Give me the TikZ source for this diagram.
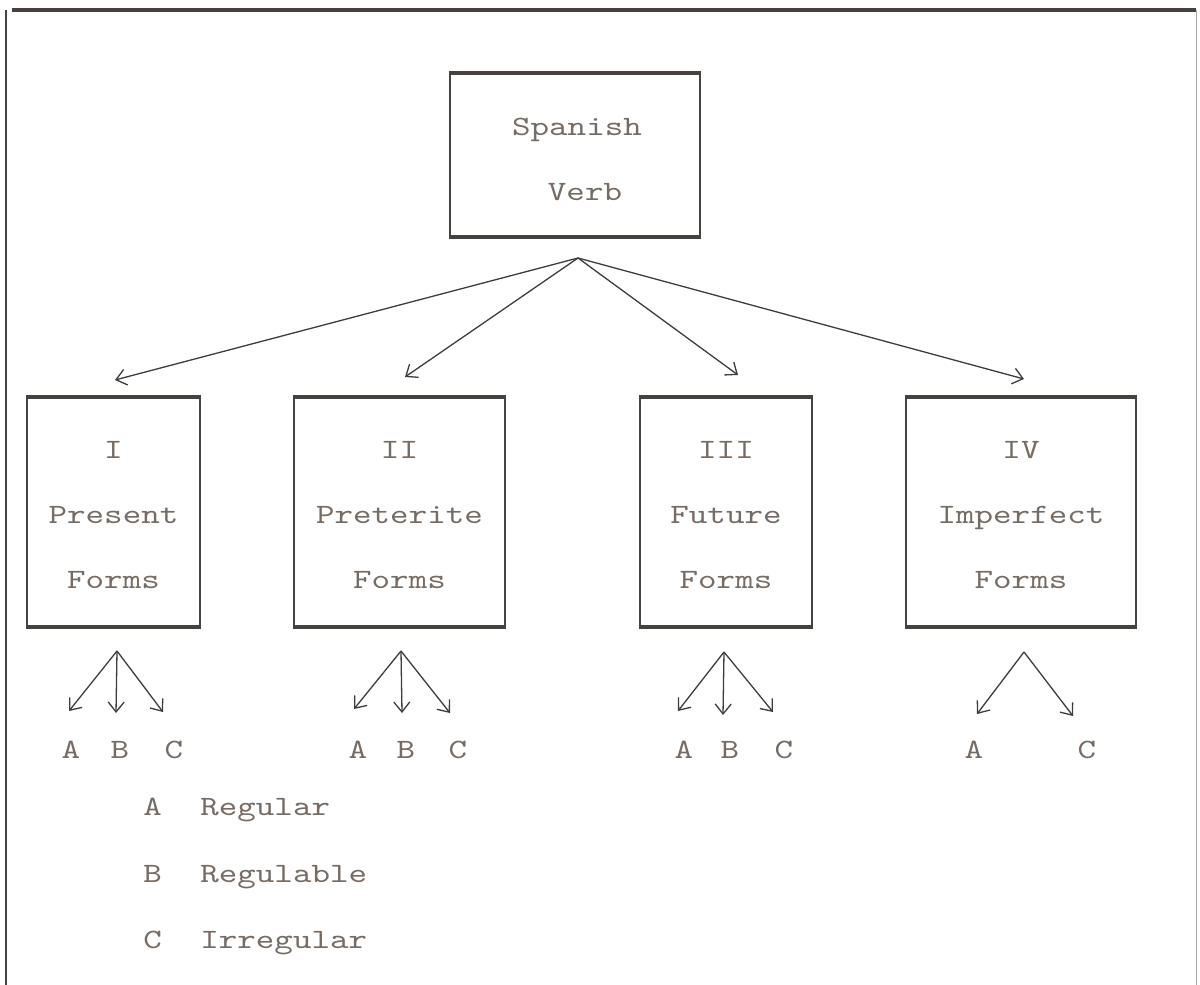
\documentclass[tikz,border=0pt]{standalone}
\usepackage{fontspec}
\newfontfamily\tw{lmmono10-regular.otf}[FakeStretch=1.26]
\usetikzlibrary{arrows.meta}
\definecolor{ink}{RGB}{70,66,64}
\definecolor{typec}{RGB}{118,108,102}
\definecolor{arr}{RGB}{62,60,60}
\begin{document}
\begin{tikzpicture}[x=0.5pt,y=-0.5pt,
  box/.style={draw=ink,line width=0.9pt,inner sep=0pt,minimum height=114pt},
  edgeline/.style={draw=ink,line width=2pt},
  twtext/.style={font=\tw\fontsize{14}{14}\selectfont,text=typec,inner sep=0pt,anchor=base},
  conn/.style={draw=arr,line width=0.65pt,-{Straight Barb[length=5pt,width=8pt]}},
]
\useasboundingbox (0,0) rectangle (1200,985);
% frame
\draw[ink,line width=1.8pt] (12,10) -- (1196,10);
\draw[ink,line width=1pt] (6,10) -- (6,985);
\draw[ink!45,line width=0.5pt] (1196,10) -- (1196,985);

% main box
\node[box,minimum width=125pt,minimum height=81pt] (verb) at (575,155) {};
\draw[edgeline] (verb.north west) -- (verb.north east);
\draw[edgeline] (verb.south west) -- (verb.south east);
\node[twtext] (tsp) at (577,135) {Spanish};
\node[twtext] (tvb) at (585,200) {Verb};

% main arrows
\coordinate (hub) at (578,258);
\coordinate (h1) at (115,380);
\coordinate (h2) at (405,377);
\coordinate (h3) at (738,375);
\coordinate (h4) at (1024,379);
\draw[conn] (hub) -- (h1);
\draw[conn] (hub) -- (h2);
\draw[conn] (hub) -- (h3);
\draw[conn] (hub) -- (h4);

% form boxes
\node[box,minimum width=86.5pt] (b1) at (113.5,512) {};
\node[box,minimum width=105.5pt] (b2) at (399.5,512) {};
\node[box,minimum width=86pt] (b3) at (726,512) {};
\node[box,minimum width=115pt] (b4) at (1021,512) {};
\foreach \b in {b1,b2,b3,b4}{
  \draw[edgeline] (\b.north west) -- (\b.north east);
  \draw[edgeline] (\b.south west) -- (\b.south east);
}
\node[twtext] (t1a) at (113.5,458) {I};
\node[twtext] (t1b) at (113.5,523) {Present};
\node[twtext] (t1c) at (113.5,588) {Forms};
\node[twtext] (t2a) at (399.5,458) {II};
\node[twtext] (t2b) at (399.5,523) {Preterite};
\node[twtext] (t2c) at (399.5,588) {Forms};
\node[twtext] (t3a) at (726,458) {III};
\node[twtext] (t3b) at (726,523) {Future};
\node[twtext] (t3c) at (726,588) {Forms};
\node[twtext] (t4a) at (1021,458) {IV};
\node[twtext] (t4b) at (1021,523) {Imperfect};
\node[twtext] (t4c) at (1021,588) {Forms};

% sub arrows I
\coordinate (o1) at (117,651);
\coordinate (o1a) at (69,711);
\coordinate (o1b) at (116,713);
\coordinate (o1c) at (163,712);
\draw[conn] (o1) -- (o1a);
\draw[conn] (o1) -- (o1b);
\draw[conn] (o1) -- (o1c);
\node[twtext] (l1a) at (71,758) {A};
\node[twtext] (l1b) at (120,758) {B};
\node[twtext] (l1c) at (174,758) {C};
% sub arrows II
\coordinate (o2) at (401,651);
\coordinate (o2a) at (354,709);
\coordinate (o2b) at (402,713);
\coordinate (o2c) at (450,713);
\draw[conn] (o2) -- (o2a);
\draw[conn] (o2) -- (o2b);
\draw[conn] (o2) -- (o2c);
\node[twtext] (l2a) at (358,758) {A};
\node[twtext] (l2b) at (406,758) {B};
\node[twtext] (l2c) at (458,758) {C};
% sub arrows III
\coordinate (o3) at (724,652);
\coordinate (o3a) at (678,711);
\coordinate (o3b) at (723,715);
\coordinate (o3c) at (773,712);
\draw[conn] (o3) -- (o3a);
\draw[conn] (o3) -- (o3b);
\draw[conn] (o3) -- (o3c);
\node[twtext] (l3a) at (684,758) {A};
\node[twtext] (l3b) at (730,758) {B};
\node[twtext] (l3c) at (784,758) {C};
% sub arrows IV
\coordinate (o4) at (1024,652);
\coordinate (o4a) at (977,714);
\coordinate (o4c) at (1073,716);
\draw[conn] (o4) -- (o4a);
\draw[conn] (o4) -- (o4c);
\node[twtext] (l4a) at (974,758) {A};
\node[twtext] (l4c) at (1087,758) {C};

% legend
\node[twtext,anchor=base west] (ka) at (143,815) {A};
\node[twtext,anchor=base west] (kat) at (200,815) {Regular};
\node[twtext,anchor=base west] (kb) at (143,882) {B};
\node[twtext,anchor=base west] (kbt) at (200,882) {Regulable};
\node[twtext,anchor=base west] (kc) at (143,948) {C};
\node[twtext,anchor=base west] (kct) at (200,948) {Irregular};
\end{tikzpicture}
\end{document}
